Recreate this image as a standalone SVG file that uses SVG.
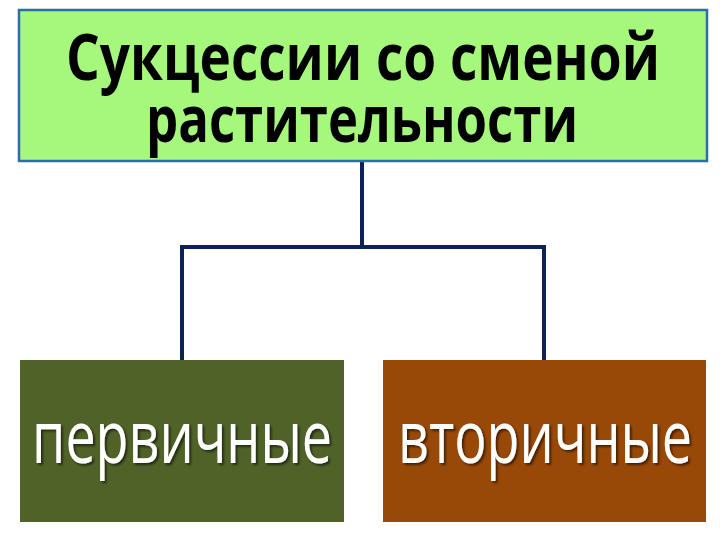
<svg xmlns="http://www.w3.org/2000/svg" width="720" height="540" viewBox="0 0 720 540">
<defs>
<filter id="shadow" x="-10%" y="-20%" width="120%" height="150%">
<feDropShadow dx="2" dy="2" stdDeviation="1" flood-color="#000" flood-opacity="0.55"/>
</filter>
</defs>
<style>
.title{font-family:"Open Sans","Liberation Sans",sans-serif;font-weight:bold;font-size:65px;fill:#000;text-anchor:middle}
.lbl{font-family:"Open Sans","Liberation Sans",sans-serif;font-size:73px;fill:#fff;text-anchor:middle;filter:url(#shadow)}
.conn{fill:none;stroke:#0c2158;stroke-width:4}
</style>
<rect width="720" height="540" fill="#ffffff"/>
<g id="connectors">
<path class="conn" d="M362,161 V247 M182,360 V247 H544 V360"/>
</g>
<g id="top">
<rect x="19" y="10" width="688" height="151" fill="#a6f87c" stroke="#2e6ea6" stroke-width="2.5"/>
<text class="title" x="363" y="80" textLength="594" lengthAdjust="spacingAndGlyphs">Сукцессии со сменой</text>
<text class="title" x="362" y="142" textLength="432" lengthAdjust="spacingAndGlyphs">растительности</text>
</g>
<g id="primary">
<rect x="20" y="360" width="324" height="162" fill="#4f6228"/>
<text class="lbl" x="182" y="463" textLength="300" lengthAdjust="spacingAndGlyphs">первичные</text>
</g>
<g id="secondary">
<rect x="383" y="360" width="323" height="162" fill="#984807"/>
<text class="lbl" x="545" y="463" textLength="294" lengthAdjust="spacingAndGlyphs">вторичные</text>
</g>
</svg>
